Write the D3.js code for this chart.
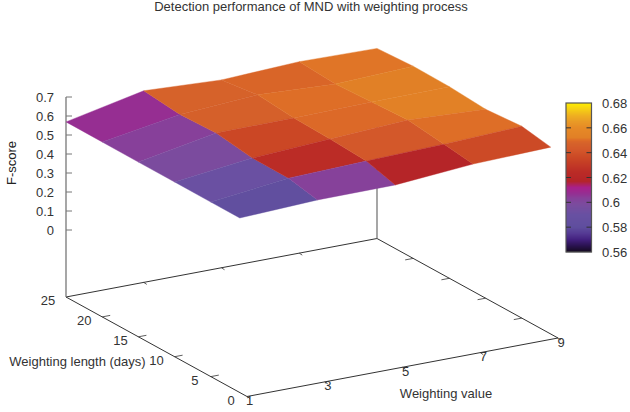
<!DOCTYPE html>
<html><head><meta charset="utf-8">
<script src="https://cdn.jsdelivr.net/npm/d3@7"></script>
<style>html,body{margin:0;padding:0;background:#fff}svg{display:block}text{font-family:"Liberation Sans",Arial,sans-serif;font-size:13px;fill:#333}</style>
</head><body><svg id="c" width="630" height="412"></svg>
<script>
const title = "Detection performance of MND with weighting process";
const weightValues = [1,3,5,7,9];
const weightLengths = [25,20,15,10,5,1];
const row25 = [.569,.656,.636,.655,.648];
const row20 = [.568,.636,.662,.642,.659];
const row15 = [.567,.643,.645,.652,.656];
const row10 = [.567,.616,.639,.662,.642];
const row5  = [.566,.615,.628,.640,.657];
const row1  = [.566,.584,.586,.619,.631];
const fScores = [row25,row20,row15,row10,row5,row1];
const zTicks = [0,.1,.2,.3,.4,.5,.6,.7];
const yTicks = [0,5,10,15,20,25];
const xTicks = [1,3,5,7,9];
const cbTicks = [.56,.58,.6,.62,.64,.66,.68];
const paletteVals = [.56,.565,.57,.575,.58,.59,.598,.6035,.607,.612,.617,.625,.636,.642,.6475,.649,.6505,.652,.66,.665,.67,.675,.68];
const paletteCols = ["#140a1e","#2a1250","#43207f","#553a94","#5f4e9e","#6850a2","#7a4c9e","#87409a","#952f92","#a8208a","#b42428","#bb2c26","#cb4825","#d3572a","#d6622a","#da6628","#df6f27","#e18026","#e68a26","#e99a26","#efb020","#f6cf14","#ffee00"];

const xS = d3.scaleLinear().domain([1,9]).range([0,1]);
const yS = d3.scaleLinear().domain([25,0]).range([0,1]);
const zS = d3.scaleLinear().domain([0,.7]).range([230,97]);
const color = d3.scaleLinear().domain(paletteVals).range(paletteCols);
const O = [66,297], EX = [311,-58.5], EY = [181,99.5];
function proj(x,y,z){
  const a=xS(x), b=yS(y);
  const zoff = z==null ? 297 : zS(z);
  return [O[0]+a*EX[0]+b*EY[0], zoff+a*EX[1]+b*EY[1]];
}
const svg = d3.select("#c");
const line=(p,q,col,w)=>svg.append("path").attr("d",d3.line()([p,q])).attr("stroke",col).attr("stroke-width",w).attr("fill","none");
const txt=(s,x,y,a="middle")=>svg.append("text").attr("x",x).attr("y",y).attr("text-anchor",a).attr("dominant-baseline","central").text(s);

txt(title,311,6);
const dark="#333", gray="#777";
line(proj(1,25),proj(9,25),dark,1);
line(proj(9,25),proj(9,0),dark,1);
line(proj(9,0),proj(1,0),dark,1);
line(proj(1,0),proj(1,25),dark,1);
line([66,297],[66,zS(.7)],gray,1.3);
line(proj(9,25),[proj(9,25)[0],zS(.7)],gray,1.3);
const add=(p,d)=>[p[0]+d[0],p[1]+d[1]];
xTicks.forEach(x=>{
  line(proj(x,0),add(proj(x,0),[3,2]),dark,.8);
  if(x>1&&x<9) line(proj(x,25),add(proj(x,25),[3,2]),dark,.8);
});
yTicks.forEach(y=>{
  if(y>0&&y<25){
    line(proj(1,y),add(proj(1,y),[8,-1.5]),dark,.8);
    line(proj(9,y),add(proj(9,y),[-8,1.5]),dark,.8);
  }
});
zTicks.forEach(z=>{
  line([66,zS(z)],[72,zS(z)],gray,1);
  txt(String(z),54,zS(z)+.5,"end");
});
yTicks.forEach(y=>{const p=proj(1,y);txt(String(y),p[0]+(y>=10?-18:-16),p[1]+3.5)});
xTicks.forEach(x=>{const p=proj(x,0);txt(String(x),p[0]+(x==1?2.5:3),p[1]+4)});
txt("Weighting length (days)",77.5,361);
txt("Weighting value",446,393);
svg.append("text").attr("transform","translate(11,163) rotate(-90)").attr("text-anchor","middle").attr("dominant-baseline","central").style("fill","#222").text("F-score");

const surf=svg.append("g");
for(let r=0;r<weightLengths.length-1;r++)for(let c=0;c<weightValues.length-1;c++){
  const corners=[[r,c],[r,c+1],[r+1,c+1],[r+1,c]];
  const pts=corners.map(([i,j])=>proj(weightValues[j],weightLengths[i],fScores[i][j]));
  const m=d3.mean(corners,([i,j])=>fScores[i][j]);
  surf.append("path").attr("d",d3.line().curve(d3.curveLinearClosed)(pts)).attr("fill",color(m)).attr("stroke",color(m)).attr("stroke-width",.4);
}
const cb=d3.scaleLinear().domain([.56,.68]).range([252,103]);
const cbg=svg.append("g");
d3.range(103,252).forEach(py=>cbg.append("rect").attr("x",566).attr("y",py).attr("width",25.5).attr("height",1.2).attr("fill",color(cb.invert(py+.5))));
svg.append("rect").attr("x",566).attr("y",103).attr("width",25.5).attr("height",149).attr("fill","none").attr("stroke","#555").attr("stroke-width",1.2);
cbTicks.forEach(v=>{
  const y=cb(v);
  if(v>.56&&v<.68){line([566,y],[571,y],"#333",1);line([586.5,y],[591.5,y],"#333",1);}
  txt(String(v),602,y+.5,"start");
});
</script></body></html>
